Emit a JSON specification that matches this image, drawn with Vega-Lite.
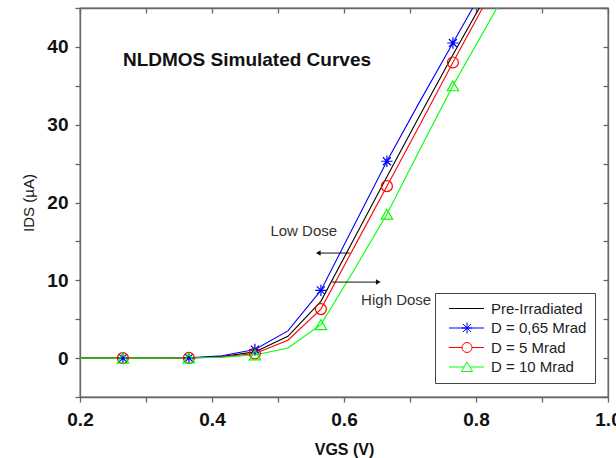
{
  "$schema": "https://vega.github.io/schema/vega-lite/v6.json",
  "width": 528,
  "height": 389,
  "autosize": "none",
  "padding": {"left": 80, "top": 8, "right": 8, "bottom": 61},
  "background": "white",
  "config": {
    "view": {"stroke": "#666666", "strokeWidth": 1.3},
    "font": "Liberation Sans",
    "axis": {"grid": false, "zindex": 1, "domain": true, "ticks": true, "labelFlush": false, "labelOverlap": false, "domainColor": "#666666", "domainWidth": 1.3, "tickColor": "#666666", "tickWidth": 1.3, "labelFont": "Liberation Sans", "labelFontWeight": "bold", "labelFontSize": 19, "labelColor": "#111", "titleFont": "Liberation Sans", "titleColor": "#111"},
    "legend": {"orient": "none", "legendX": 355, "legendY": 285, "padding": 8, "strokeColor": "#444", "fillColor": "white", "labelFont": "Liberation Sans", "labelFontSize": 15, "labelColor": "#222", "rowPadding": 3.5, "symbolSize": 100, "symbolStrokeWidth": 1, "labelOffset": 33, "cornerRadius": 0}
  },
  "datasets": {
    "curves": [
      {"series": "Pre-Irradiated", "x": 0.165, "y": 0, "m": 0},
      {"series": "Pre-Irradiated", "x": 0.215, "y": 0, "m": 0},
      {"series": "Pre-Irradiated", "x": 0.265, "y": 0, "m": 1},
      {"series": "Pre-Irradiated", "x": 0.315, "y": 0, "m": 0},
      {"series": "Pre-Irradiated", "x": 0.365, "y": 0.02, "m": 1},
      {"series": "Pre-Irradiated", "x": 0.415, "y": 0.2, "m": 0},
      {"series": "Pre-Irradiated", "x": 0.465, "y": 0.8, "m": 1},
      {"series": "Pre-Irradiated", "x": 0.515, "y": 2.8, "m": 0},
      {"series": "Pre-Irradiated", "x": 0.565, "y": 7.3, "m": 1},
      {"series": "Pre-Irradiated", "x": 0.615, "y": 15.3, "m": 0},
      {"series": "Pre-Irradiated", "x": 0.665, "y": 23.3, "m": 1},
      {"series": "Pre-Irradiated", "x": 0.715, "y": 31.2, "m": 0},
      {"series": "Pre-Irradiated", "x": 0.765, "y": 39.0, "m": 1},
      {"series": "Pre-Irradiated", "x": 0.815, "y": 46.5, "m": 0},
      {"series": "Pre-Irradiated", "x": 0.865, "y": 54.0, "m": 0},
      {"series": "D = 0,65 Mrad", "x": 0.165, "y": 0, "m": 0},
      {"series": "D = 0,65 Mrad", "x": 0.215, "y": 0, "m": 0},
      {"series": "D = 0,65 Mrad", "x": 0.265, "y": 0, "m": 1},
      {"series": "D = 0,65 Mrad", "x": 0.315, "y": 0, "m": 0},
      {"series": "D = 0,65 Mrad", "x": 0.365, "y": 0.03, "m": 1},
      {"series": "D = 0,65 Mrad", "x": 0.415, "y": 0.3, "m": 0},
      {"series": "D = 0,65 Mrad", "x": 0.465, "y": 1.1, "m": 1},
      {"series": "D = 0,65 Mrad", "x": 0.515, "y": 3.5, "m": 0},
      {"series": "D = 0,65 Mrad", "x": 0.565, "y": 8.7, "m": 1},
      {"series": "D = 0,65 Mrad", "x": 0.615, "y": 17.0, "m": 0},
      {"series": "D = 0,65 Mrad", "x": 0.665, "y": 25.3, "m": 1},
      {"series": "D = 0,65 Mrad", "x": 0.715, "y": 33.0, "m": 0},
      {"series": "D = 0,65 Mrad", "x": 0.765, "y": 40.5, "m": 1},
      {"series": "D = 0,65 Mrad", "x": 0.815, "y": 48.0, "m": 0},
      {"series": "D = 0,65 Mrad", "x": 0.865, "y": 55.5, "m": 0},
      {"series": "D = 5 Mrad", "x": 0.165, "y": 0, "m": 0},
      {"series": "D = 5 Mrad", "x": 0.215, "y": 0, "m": 0},
      {"series": "D = 5 Mrad", "x": 0.265, "y": 0, "m": 1},
      {"series": "D = 5 Mrad", "x": 0.315, "y": 0, "m": 0},
      {"series": "D = 5 Mrad", "x": 0.365, "y": 0.02, "m": 1},
      {"series": "D = 5 Mrad", "x": 0.415, "y": 0.15, "m": 0},
      {"series": "D = 5 Mrad", "x": 0.465, "y": 0.6, "m": 1},
      {"series": "D = 5 Mrad", "x": 0.515, "y": 2.3, "m": 0},
      {"series": "D = 5 Mrad", "x": 0.565, "y": 6.3, "m": 1},
      {"series": "D = 5 Mrad", "x": 0.615, "y": 14.2, "m": 0},
      {"series": "D = 5 Mrad", "x": 0.665, "y": 22.1, "m": 1},
      {"series": "D = 5 Mrad", "x": 0.715, "y": 30.0, "m": 0},
      {"series": "D = 5 Mrad", "x": 0.765, "y": 38.0, "m": 1},
      {"series": "D = 5 Mrad", "x": 0.815, "y": 45.8, "m": 0},
      {"series": "D = 5 Mrad", "x": 0.865, "y": 53.5, "m": 0},
      {"series": "D = 10 Mrad", "x": 0.165, "y": 0, "m": 0},
      {"series": "D = 10 Mrad", "x": 0.215, "y": 0, "m": 0},
      {"series": "D = 10 Mrad", "x": 0.265, "y": 0, "m": 1},
      {"series": "D = 10 Mrad", "x": 0.315, "y": 0, "m": 0},
      {"series": "D = 10 Mrad", "x": 0.365, "y": 0.01, "m": 1},
      {"series": "D = 10 Mrad", "x": 0.415, "y": 0.1, "m": 0},
      {"series": "D = 10 Mrad", "x": 0.465, "y": 0.4, "m": 1},
      {"series": "D = 10 Mrad", "x": 0.515, "y": 1.3, "m": 0},
      {"series": "D = 10 Mrad", "x": 0.565, "y": 4.3, "m": 1},
      {"series": "D = 10 Mrad", "x": 0.615, "y": 11.3, "m": 0},
      {"series": "D = 10 Mrad", "x": 0.665, "y": 18.5, "m": 1},
      {"series": "D = 10 Mrad", "x": 0.715, "y": 26.8, "m": 0},
      {"series": "D = 10 Mrad", "x": 0.765, "y": 35.0, "m": 1},
      {"series": "D = 10 Mrad", "x": 0.815, "y": 42.5, "m": 0},
      {"series": "D = 10 Mrad", "x": 0.865, "y": 50.0, "m": 0}
    ],
    "notes": [
      {"label": "NLDMOS Simulated Curves", "x": 0.453, "y": 38.3, "kind": "title"},
      {"label": "Low Dose", "x": 0.539, "y": 16.3, "kind": "note"},
      {"label": "High Dose", "x": 0.679, "y": 7.45, "kind": "note"}
    ],
    "arrows": [
      {"name": "low", "x": 0.609, "x2": 0.561, "y": 13.5, "dir": "triangle-left"},
      {"name": "high", "x": 0.582, "x2": 0.652, "y": 9.77, "dir": "triangle-right"}
    ]
  },
  "layer": [
    {
      "data": {"name": "curves"},
      "mark": {"type": "line", "strokeWidth": 1.1, "clip": true},
      "encoding": {
        "x": {"field": "x", "type": "quantitative", "scale": {"domain": [0.2, 1.0]},
          "axis": {"orient": "bottom", "values": [0.2, 0.3, 0.4, 0.5, 0.6, 0.7, 0.8, 0.9, 1.0], "labelExpr": "abs(round(datum.value*10) % 2) == 0 ? format(datum.value, '.1f') : ''", "tickSize": 5, "labelPadding": 8, "title": "VGS (V)", "titleFontSize": 16, "titleFontWeight": "bold", "titlePadding": 12}},
        "y": {"field": "y", "type": "quantitative", "scale": {"domain": [-5, 45]},
          "axis": {"orient": "left", "values": [-5, 0, 5, 10, 15, 20, 25, 30, 35, 40, 45], "labelExpr": "datum.value % 10 == 0 ? format(datum.value, 'd') : ''", "tickSize": 5, "labelPadding": 7, "title": "IDS (µA)", "titleFontSize": 15, "titleFontWeight": "normal", "titlePadding": 10}},
        "color": {"field": "series", "type": "nominal",
          "scale": {"domain": ["Pre-Irradiated", "D = 0,65 Mrad", "D = 5 Mrad", "D = 10 Mrad"], "range": ["#000000", "#0000ff", "#ff0000", "#00ff00"]},
          "legend": {"title": null}},
        "order": {"field": "x", "type": "quantitative"}
      }
    },
    {
      "data": {"name": "curves"},
      "transform": [{"filter": "datum.m == 99"}],
      "mark": {"type": "point", "filled": false, "opacity": 1, "strokeWidth": 1, "size": 100},
      "encoding": {
        "x": {"field": "x", "type": "quantitative",
          "axis": {"orient": "top", "values": [0.2, 0.3, 0.4, 0.5, 0.6, 0.7, 0.8, 0.9, 1.0], "labels": false, "tickSize": -5, "title": null}},
        "y": {"field": "y", "type": "quantitative",
          "axis": {"orient": "right", "values": [-5, 0, 5, 10, 15, 20, 25, 30, 35, 40, 45], "labels": false, "tickSize": -5, "title": null}},
        "color": {"field": "series", "type": "nominal", "legend": {"title": null}},
        "shape": {"field": "series", "type": "nominal",
          "scale": {"domain": ["Pre-Irradiated", "D = 0,65 Mrad", "D = 5 Mrad", "D = 10 Mrad"], "range": ["M-0.3,0H6.7", "M-0.3,0H6.7M3.3,-1.1V1.1M2.2,0H4.4M2.5,-0.8L4.1,0.8M2.5,0.8L4.1,-0.8", "M-0.3,0H2.3M4.3,0H6.7M2.3,0A1,1 0 1,0 4.3,0A1,1 0 1,0 2.3,0", "M-0.3,0H2.72M3.88,0H6.7M2.2,0.9L3.3,-1.0L4.4,0.9Z"]},
          "legend": {"title": null}}
      }
    },
    {
      "data": {"name": "curves"},
      "transform": [{"filter": "datum.m == 1 && datum.series == 'D = 0,65 Mrad'"}],
      "mark": {"type": "point", "filled": false, "opacity": 1, "strokeWidth": 1.2, "size": 130, "color": "#0000ff", "shape": "M-1,0H1M0,-1V1M-0.7,-0.7L0.7,0.7M-0.7,0.7L0.7,-0.7"},
      "encoding": {
        "x": {"field": "x", "type": "quantitative", "axis": null},
        "y": {"field": "y", "type": "quantitative", "axis": null}
      }
    },
    {
      "data": {"name": "curves"},
      "transform": [{"filter": "datum.m == 1 && datum.series == 'D = 5 Mrad'"}],
      "mark": {"type": "point", "filled": false, "opacity": 1, "strokeWidth": 1.2, "size": 120, "color": "#ff0000", "shape": "circle"},
      "encoding": {
        "x": {"field": "x", "type": "quantitative", "axis": null},
        "y": {"field": "y", "type": "quantitative", "axis": null}
      }
    },
    {
      "data": {"name": "curves"},
      "transform": [{"filter": "datum.m == 1 && datum.series == 'D = 10 Mrad'"}],
      "mark": {"type": "point", "filled": false, "opacity": 1, "strokeWidth": 1.2, "size": 130, "color": "#00ff00", "shape": "triangle-up"},
      "encoding": {
        "x": {"field": "x", "type": "quantitative", "axis": null},
        "y": {"field": "y", "type": "quantitative", "axis": null}
      }
    },
    {
      "data": {"name": "notes"},
      "transform": [{"filter": "datum.kind == 'title'"}],
      "mark": {"type": "text", "font": "Liberation Sans", "fontWeight": "bold", "fontSize": 19, "color": "#111", "align": "center", "baseline": "middle"},
      "encoding": {
        "x": {"field": "x", "type": "quantitative", "axis": null},
        "y": {"field": "y", "type": "quantitative", "axis": null},
        "text": {"field": "label"}
      }
    },
    {
      "data": {"name": "notes"},
      "transform": [{"filter": "datum.kind == 'note'"}],
      "mark": {"type": "text", "font": "Liberation Sans", "fontSize": 15, "color": "#333", "align": "center", "baseline": "middle"},
      "encoding": {
        "x": {"field": "x", "type": "quantitative", "axis": null},
        "y": {"field": "y", "type": "quantitative", "axis": null},
        "text": {"field": "label"}
      }
    },
    {
      "data": {"name": "arrows"},
      "mark": {"type": "rule", "color": "#111", "strokeWidth": 1},
      "encoding": {
        "x": {"field": "x", "type": "quantitative", "axis": null},
        "x2": {"field": "x2"},
        "y": {"field": "y", "type": "quantitative", "axis": null}
      }
    },
    {
      "data": {"name": "arrows"},
      "mark": {"type": "point", "filled": true, "color": "#111", "opacity": 1, "size": 30},
      "encoding": {
        "x": {"field": "x2", "type": "quantitative", "axis": null},
        "y": {"field": "y", "type": "quantitative", "axis": null},
        "shape": {"field": "dir", "type": "nominal", "scale": null, "legend": null}
      }
    }
  ],
  "resolve": {"axis": {"x": "independent", "y": "independent"}}
}
